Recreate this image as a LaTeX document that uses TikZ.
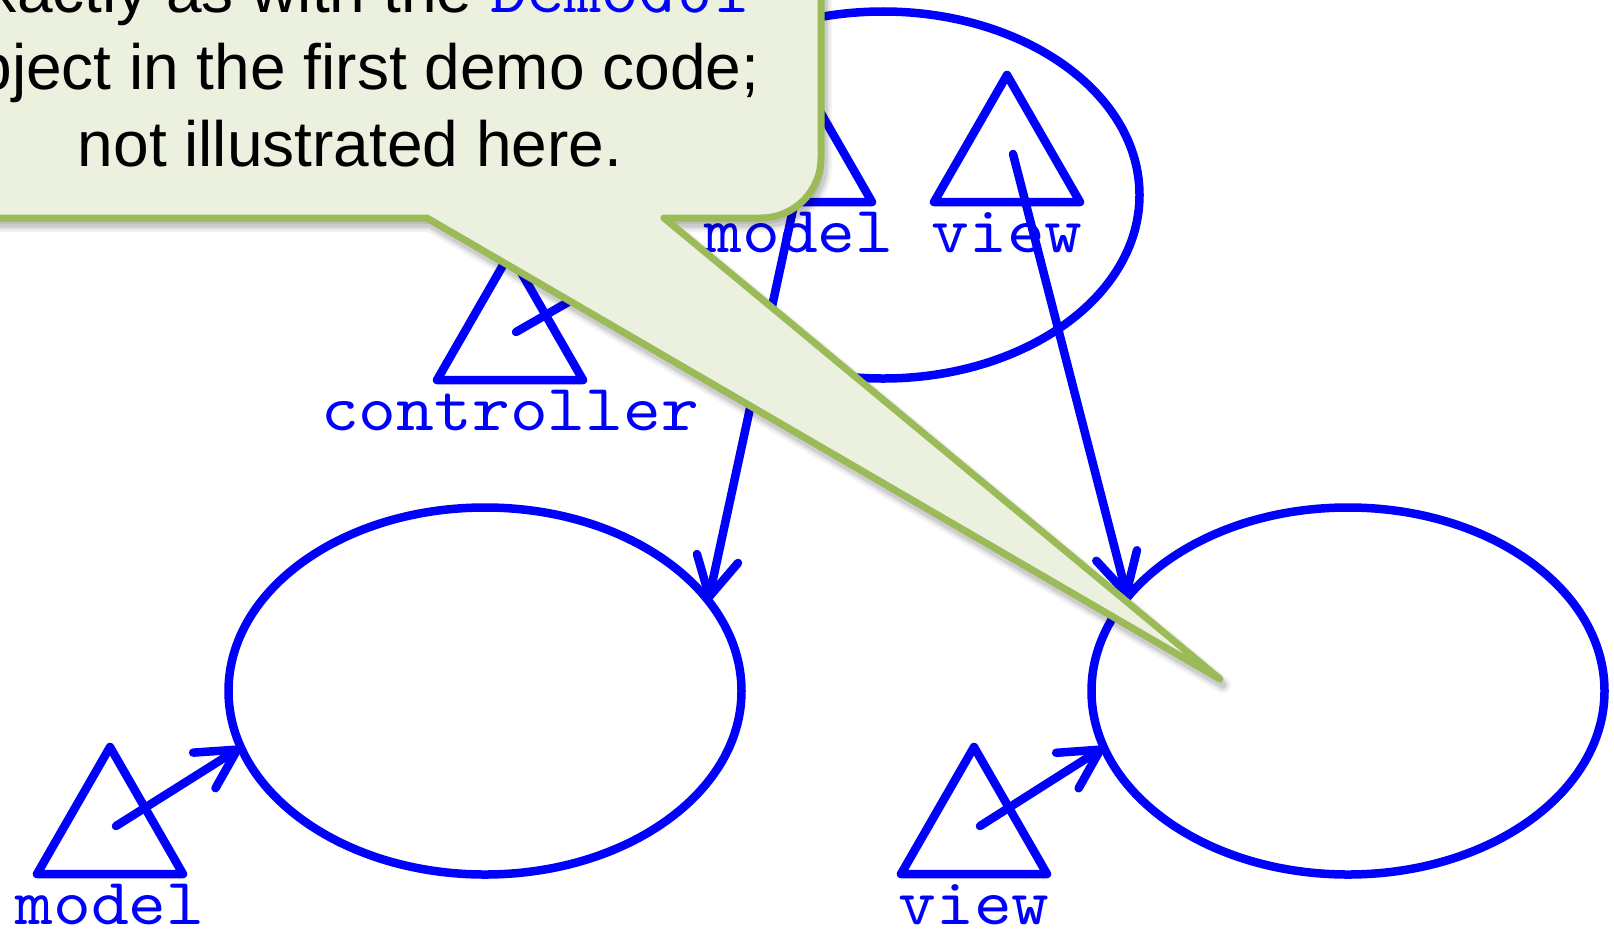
\documentclass[tikz,border=0pt]{standalone}
\usepackage{fontspec}
\setmainfont{Liberation Sans}
\newfontfamily\codefont[FakeStretch=1.09]{lmmono10-regular.otf}
\usetikzlibrary{arrows.meta,shapes.geometric}
\definecolor{umlblue}{RGB}{0,0,255}
\definecolor{bubbleedge}{HTML}{9BBB59}
\definecolor{bubblefill}{HTML}{EBF1DE}

% outline of the speech bubble: body runs off the top-left corner,
% pointer reaches down to the right-hand container
\def\bubblepath{(-200,-300) -- (821,-300) -- (821,158)
  arc[start angle=0,end angle=90,radius=60] -- (664,218)
  -- (1220,679) -- (427,218) -- (-200,218) -- cycle}

\tikzset{
  umlline/.style={draw=umlblue, line width=8.5bp, line join=round, line cap=round},
  container/.style={umlline, ellipse, inner sep=0pt, outer sep=0pt,
    minimum width=513bp, minimum height=367bp},
  linkarrow/.style={umlline, -{Straight Barb[length=39bp,width=42bp,round]}},
  rolelabel/.style={text=umlblue, inner sep=0pt, anchor=base,
    font=\codefont\fontsize{66bp}{66bp}\selectfont},
  bubbletext/.style={inner sep=0pt, anchor=base,
    font=\fontsize{64bp}{76bp}\selectfont},
  % a role: triangle with its name underneath and a link origin inside
  role/.pic={
    \draw[umlline] (-73,0) -- (0,-127) -- (73,0) -- cycle;
    \coordinate (-src) at (6,-48);
    \node[rolelabel] (-lbl) at (0,50) {#1};
  }
}

\begin{document}
\begin{tikzpicture}[x=1bp,y=-1bp]
\useasboundingbox (0,0) rectangle (1614,930);

% containers
\node[container] (top) at (883,195) {};
\node[container] (left) at (485,691) {};
\node[container] (right) at (1348,691) {};

% roles
\pic (tm) at (799,202) {role=model};
\pic (tv) at (1007,202) {role=view};
\pic (ct) at (510,380) {role=controller};
\pic (bm) at (110,874) {role=model};
\pic (bv) at (974,874) {role=view};

% links
\draw[linkarrow] (tm-src) -- (left.22);
\draw[linkarrow] (tv-src) -- (right.157);
\draw[linkarrow] (ct-src) -- (top.195);
\draw[linkarrow] (bm-src) -- (left.193);
\draw[linkarrow] (bv-src) -- (right.193);

% soft shadow under the bubble
\begin{scope}[shift={(3,6)}]
  \fill[black, opacity=0.08] \bubblepath;
  \draw[black, opacity=0.05, line width=16bp, line join=round] \bubblepath;
  \draw[black, opacity=0.07, line width=11bp, line join=round] \bubblepath;
  \draw[black, opacity=0.09, line width=7bp, line join=round] \bubblepath;
\end{scope}

% speech bubble
\draw[draw=bubbleedge, fill=bubblefill, line width=7bp, line join=round] \bubblepath;
\node[bubbletext] (note1) at (350,12) {exactly as with the {\codefont\fontsize{65bp}{76bp}\selectfont\color{umlblue}DemoGUI}};
\node[bubbletext] (note2) at (350,89) {object in the first demo code;};
\node[bubbletext] (note3) at (350,166) {not illustrated here.};
\end{tikzpicture}
\end{document}
